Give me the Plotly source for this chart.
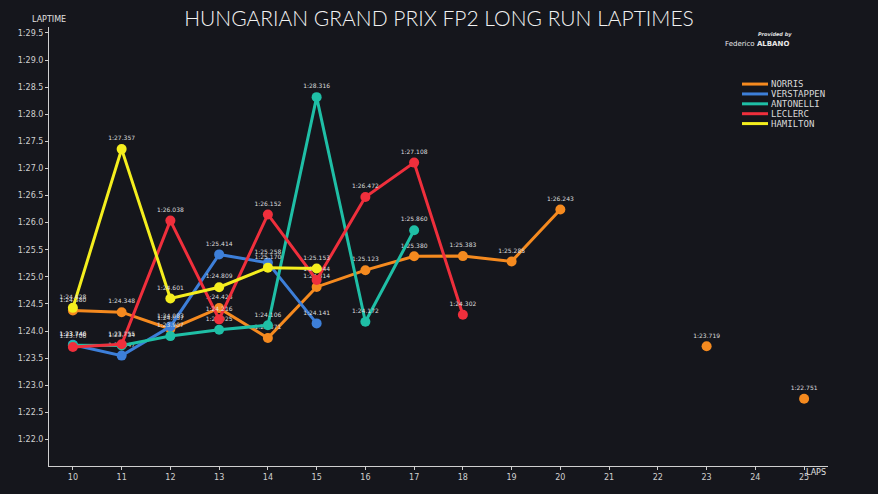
import plotly.graph_objects as go

drivers = ["NORRIS", "VERSTAPPEN", "ANTONELLI", "LECLERC", "HAMILTON"]
colors = ["#f58a1f", "#3d7fd9", "#1fbfa6", "#ef2f3c", "#f4ee1e"]

norris_laps = [10, 11, 12, 13, 14, 15, 16, 17, 18, 19, 20, 21, 22, 23, 24, 25]
norris_times = [84.380, 84.348, 84.037, 84.423, 83.871, 84.814, 85.123, 85.380, 85.383, 85.285, 86.243,
                None, None, 83.719, None, 82.751]

verstappen_laps = [10, 11, 12, 13, 14, 15]
verstappen_times = [83.746, 83.547, 84.083, 85.414, 85.258, 84.141]

antonelli_laps = [10, 11, 12, 13, 14, 15, 16, 17]
antonelli_times = [83.740, 83.734, 83.907, 84.025, 84.106, 88.316, 84.172, 85.860]

leclerc_laps = [10, 11, 12, 13, 14, 15, 16, 17, 18]
leclerc_times = [83.706, 83.755, 86.038, 84.216, 86.152, 84.944, 86.472, 87.108, 84.302]

hamilton_laps = [10, 11, 12, 13, 14, 15]
hamilton_times = [84.428, 87.357, 84.601, 84.809, 85.170, 85.153]

y_ticks = [82.0, 82.5, 83.0, 83.5, 84.0, 84.5, 85.0, 85.5, 86.0, 86.5, 87.0, 87.5, 88.0, 88.5, 89.0, 89.5]
x_ticks = list(range(10, 26))


def fmt(v, dec=3):
    if v is None:
        return ""
    m = int(v // 60)
    s = v - 60 * m
    if dec == 3:
        return f"{m}:{s:06.3f}"
    return f"{m}:{s:04.1f}"


series = [
    (norris_laps, norris_times),
    (verstappen_laps, verstappen_times),
    (antonelli_laps, antonelli_times),
    (leclerc_laps, leclerc_times),
    (hamilton_laps, hamilton_times),
]

fig = go.Figure()
for name, col, (lx, ly) in zip(drivers, colors, series):
    fig.add_trace(go.Scatter(
        x=lx, y=ly, name=name, mode="lines+markers+text",
        line=dict(color=col, width=3),
        marker=dict(color=col, size=10),
        text=[fmt(v) for v in ly],
        textposition="top center",
        textfont=dict(color="#dcdcdc", size=6, family="DejaVu Sans"),
        cliponaxis=False, connectgaps=False, showlegend=False,
    ))

# manual compact legend (paper coordinates)
shapes = []
annotations = []
leg_x0, leg_x1, leg_tx = 0.8896, 0.9230, 0.9245
leg_y0, leg_dy = 0.870, 0.0225
for i, (name, col) in enumerate(zip(drivers, colors)):
    yy = leg_y0 - i * leg_dy
    shapes.append(dict(type="line", xref="paper", yref="paper", x0=leg_x0, x1=leg_x1, y0=yy, y1=yy,
                       line=dict(color=col, width=3)))
    annotations.append(dict(text=name, xref="paper", yref="paper", x=leg_tx, y=yy, xanchor="left",
                            yanchor="middle", showarrow=False,
                            font=dict(color="#d8d8d8", size=9, family="DejaVu Sans Mono")))

axis_col = "#cfcfcf"
annotations += [
    dict(text="LAPTIME", xref="paper", yref="paper", x=0.0, y=1.018, xanchor="center", yanchor="middle",
         showarrow=False, font=dict(color="#e0e0e0", size=8, family="DejaVu Sans")),
    dict(text="LAPS", xref="paper", yref="paper", x=1.0, y=0.0, xanchor="right", yanchor="top",
         showarrow=False, font=dict(color="#e0e0e0", size=8, family="DejaVu Sans")),
    dict(text="<i><b>Provided by</b></i>", xref="paper", yref="paper", x=0.932, y=0.984, xanchor="center",
         yanchor="middle", showarrow=False, font=dict(color="#e0e0e0", size=5, family="DejaVu Sans")),
    dict(text="Federico <b>ALBANO</b>", xref="paper", yref="paper", x=0.909, y=0.962, xanchor="center",
         yanchor="middle", showarrow=False, font=dict(color="#e8e8e8", size=7, family="DejaVu Sans")),
]

fig.update_layout(
    width=878, height=494,
    paper_bgcolor="#15161c", plot_bgcolor="#15161c",
    margin=dict(l=49, r=50, t=27, b=23),
    showlegend=False,
    title=dict(text="HUNGARIAN GRAND PRIX FP2 LONG RUN LAPTIMES",
               x=0.5, xanchor="center", y=0.962, yanchor="middle",
               font=dict(color="#f2f2f2", size=21, family="Lato", weight=300)),
    xaxis=dict(range=[9.51, 25.49], tickvals=x_ticks, ticktext=[str(t) for t in x_ticks],
               showgrid=False, zeroline=False, showline=True, linecolor=axis_col, linewidth=1,
               ticks="outside", ticklen=3, tickcolor=axis_col,
               tickfont=dict(color="#d0d0d0", size=8, family="DejaVu Sans")),
    yaxis=dict(range=[81.51, 89.61], tickvals=y_ticks, ticktext=[fmt(t, 1) for t in y_ticks],
               showgrid=False, zeroline=False, showline=True, linecolor=axis_col, linewidth=1,
               ticks="outside", ticklen=3, tickcolor=axis_col,
               tickfont=dict(color="#d0d0d0", size=8, family="DejaVu Sans")),
    shapes=shapes,
    annotations=annotations,
)

fig.write_html("out.html")
